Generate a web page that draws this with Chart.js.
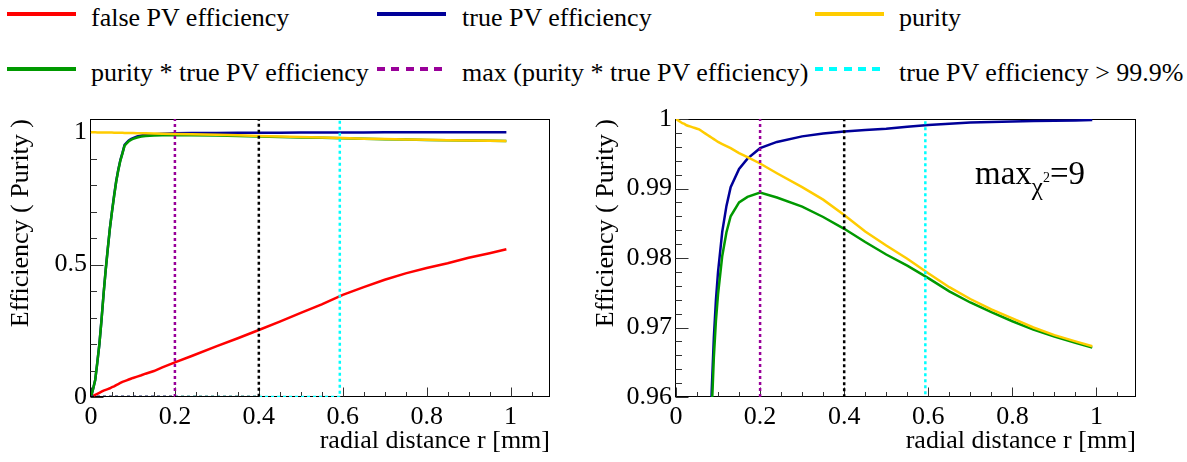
<!DOCTYPE html>
<html>
<head>
<meta charset="utf-8">
<script src="https://cdn.jsdelivr.net/npm/chart.js@4.4.1/dist/chart.umd.min.js"></script>
<style>
  body { margin: 0; background: #fff; width: 1187px; height: 462px; position: relative; overflow: hidden;
         font-family: "Liberation Serif", "Times New Roman", Tinos, "Nimbus Roman", "DejaVu Serif", serif; color: #000; }
  canvas { position: absolute; top: 0; }
  .ln { position: absolute; height: 4px; width: 69px; }
  .tx { position: absolute; font-size: 26px; line-height: 30px; white-space: nowrap; }
  .ann { position: absolute; left: 975px; top: 157px; font-size: 33px; line-height: 33px; white-space: nowrap; }
</style>
</head>
<body>

<!-- legend (spans both pads) -->
<div class="ln" style="left:7px;top:12px;background:#ff0000"></div>
<div class="tx" style="left:91px;top:3px">false PV efficiency</div>
<div class="ln" style="left:377px;top:12px;background:#000099"></div>
<div class="tx" style="left:462px;top:3px">true PV efficiency</div>
<div class="ln" style="left:815px;top:12px;background:#ffcc00"></div>
<div class="tx" style="left:899px;top:3px">purity</div>

<div class="ln" style="left:7px;top:67px;background:#009900"></div>
<div class="tx" style="left:91px;top:58px">purity * true PV efficiency</div>
<div class="ln" style="left:377px;top:67px;background:repeating-linear-gradient(to right,#990099 0 8px,transparent 8px 14.3px)"></div>
<div class="tx" style="left:462px;top:58px">max (purity * true PV efficiency)</div>
<div class="ln" style="left:815px;top:67px;background:repeating-linear-gradient(to right,#00ffff 0 8px,transparent 8px 14.3px)"></div>
<div class="tx" style="left:899px;top:58px">true PV efficiency &gt; 99.9%</div>

<canvas id="left" width="585" height="462" style="left:0"></canvas>
<canvas id="right" width="602" height="462" style="left:585px"></canvas>

<div class="ann">max<span style="position:relative;top:11px;font-size:25px">χ<span style="position:relative;top:-13px;font-size:14px">2</span></span>=9</div>

<script>
// radial distance r [mm]
const rVals = [0, 0.005, 0.01, 0.015, 0.02, 0.025, 0.03, 0.035, 0.04, 0.045, 0.05, 0.055, 0.06, 0.065,
               0.07, 0.075, 0.08, 0.085, 0.09, 0.095, 0.1, 0.11, 0.12, 0.13, 0.15, 0.17, 0.2, 0.24,
               0.3, 0.35, 0.4, 0.45, 0.5, 0.55, 0.6, 0.65, 0.7, 0.75, 0.8, 0.85, 0.9, 0.95, 0.99];

const falseEff = [0, 0.004, 0.008, 0.012, 0.016, 0.02, 0.024, 0.027, 0.03, 0.033, 0.037, 0.04, 0.045, 0.049,
                  0.053, 0.057, 0.06, 0.063, 0.066, 0.069, 0.072, 0.077, 0.082, 0.088, 0.098, 0.112, 0.131, 0.155,
                  0.192, 0.222, 0.253, 0.285, 0.318, 0.35, 0.386, 0.415, 0.443, 0.467, 0.487, 0.505, 0.526, 0.543, 0.558];

const trueEff = [0, 0.03, 0.064, 0.13, 0.2, 0.29, 0.39, 0.48, 0.56, 0.637, 0.7, 0.76, 0.815, 0.858,
                 0.895, 0.922, 0.952, 0.961, 0.9685, 0.974, 0.978, 0.9838, 0.9875, 0.9902, 0.9928, 0.9943, 0.9958, 0.9967,
                 0.9975, 0.9979, 0.9982, 0.9984, 0.9986, 0.9989, 0.99914, 0.9993, 0.9995, 0.99958, 0.99965, 0.9997, 0.99976, 0.9998, 0.99985];

const purity = [1.0, 0.9998, 0.9996, 0.9994, 0.9993, 0.9991, 0.999, 0.9989, 0.9988, 0.9987, 0.9986, 0.9985, 0.9983, 0.9981,
                0.9979, 0.9977, 0.9975, 0.9973, 0.9971, 0.9969, 0.9967, 0.9964, 0.9961, 0.9958, 0.9951, 0.9945, 0.9936, 0.9922,
                0.9902, 0.9884, 0.9862, 0.9838, 0.9818, 0.9799, 0.9778, 0.9758, 0.9741, 0.9726, 0.9713, 0.97, 0.9689, 0.968, 0.9673];

const purityTimesEff = [0, 0.03, 0.064, 0.13, 0.2, 0.289, 0.389, 0.479, 0.559, 0.636, 0.699, 0.758, 0.813, 0.856,
                        0.893, 0.92, 0.9495, 0.958, 0.9657, 0.971, 0.9748, 0.9803, 0.9837, 0.986, 0.988, 0.9888, 0.9894, 0.9887,
                        0.9874, 0.9859, 0.9842, 0.9823, 0.9805, 0.9789, 0.9771, 0.9752, 0.9736, 0.9722, 0.9709, 0.9697, 0.9687, 0.9678, 0.9671];

// cut positions (vertical dotted markers)
const rMaxProduct = 0.2;
const rChosen = 0.4;
const rEff999 = 0.593;

const xTickValues = [0, 0.2, 0.4, 0.6, 0.8, 1];
const yTicksLeft = [0, 0.5, 1];
const yTicksRight = [0.96, 0.97, 0.98, 0.99, 1];

Chart.defaults.font.family = '"Liberation Serif", "Times New Roman", Tinos, "Nimbus Roman", "DejaVu Serif", serif';
Chart.defaults.font.size = 26;
Chart.defaults.color = '#000';

function curve(label, ys, color, order) {
  return {
    label: label,
    data: rVals.map((r, i) => ({ x: r, y: ys[i] })),
    borderColor: color, backgroundColor: color,
    borderWidth: 2.5, pointRadius: 0, tension: 0, fill: false, order: order
  };
}

function marker(label, x0, yTop, color, order) {
  return {
    label: label,
    data: [{ x: 0, y: 0 }, { x: x0, y: 0 }, { x: x0, y: yTop }],
    borderColor: color, borderWidth: 2.5, borderDash: [3, 3],
    pointRadius: 0, tension: 0, fill: false, order: order
  };
}

// ROOT-like frame with inward major/minor ticks
const rootFrame = {
  id: 'rootFrame',
  beforeDatasetsDraw(chart, args, opts) {
    const { ctx, chartArea: a, scales: { x, y } } = chart;
    const L = Math.round(a.left) - 0.5, R = Math.round(a.right) - 0.5;
    const T = Math.round(a.top) + 0.5, B = Math.round(a.bottom) - 0.5;
    ctx.save();
    ctx.strokeStyle = '#000';
    ctx.lineWidth = 1;
    ctx.strokeRect(L, T, R - L, B - T);
    ctx.strokeStyle = '#333';
    ctx.beginPath();
    const eps = 1e-9;
    for (let v = x.min; v <= x.max + eps; v += opts.xMinor) {
      const major = xTickValues.some(t => Math.abs(t - v) < 1e-6);
      const px = Math.round(x.getPixelForValue(v)) + 0.5;
      ctx.moveTo(px, B); ctx.lineTo(px, B - (major ? 9 : 4.5));
    }
    for (let v = y.min; v <= y.max + eps; v += opts.yMinor) {
      const major = opts.yMajor.some(t => Math.abs(t - v) < 1e-6);
      const py = Math.round(y.getPixelForValue(v)) + 0.5;
      ctx.moveTo(L, py); ctx.lineTo(L + (major ? 13 : 6.5), py);
    }
    ctx.stroke();
    ctx.restore();
  }
};

function makeChart(canvasId, yMin, yMax, yMajor, yMinor, padRight) {
  const ctx = document.getElementById(canvasId).getContext('2d');
  return new Chart(ctx, {
    type: 'line',
    data: {
      datasets: [
        marker('cut', rChosen, yMax, '#000000', 0),
        marker('max (purity * true PV efficiency)', rMaxProduct, yMax, '#990099', 1),
        marker('true PV efficiency > 99.9%', rEff999, yMax, '#00ffff', 2),
        curve('purity', purity, '#ffcc00', 3),
        curve('purity * true PV efficiency', purityTimesEff, '#009900', 4),
        curve('true PV efficiency', trueEff, '#000099', 5),
        curve('false PV efficiency', falseEff, '#ff0000', 6)
      ]
    },
    options: {
      responsive: false,
      animation: false,
      layout: { padding: { left: 0, top: 119, right: padRight, bottom: 0 } },
      plugins: {
        legend: { display: false },
        tooltip: { enabled: false },
        rootFrame: { xMinor: 0.05, yMinor: yMinor, yMajor: yMajor }
      },
      scales: {
        x: {
          type: 'linear', min: 0, max: 1.094,
          grid: { display: false, drawTicks: false },
          border: { display: false },
          afterBuildTicks: s => { s.ticks = xTickValues.map(v => ({ value: v })); },
          afterFit: s => { s.height = 65; },
          ticks: { autoSkip: false, maxRotation: 0, padding: 5, callback: v => String(v) },
          title: { display: true, text: 'radial distance r [mm]', align: 'end', padding: { top: 0, bottom: 5 } }
        },
        y: {
          type: 'linear', min: yMin, max: yMax,
          grid: { display: false, drawTicks: false },
          border: { display: false },
          afterBuildTicks: s => { s.ticks = yMajor.map(v => ({ value: v })); },
          afterFit: s => { s.width = 91; },
          ticks: { autoSkip: false, padding: 4, callback: v => String(v) },
          title: { display: true, text: 'Efficiency ( Purity )', align: 'end', padding: { top: 6, bottom: 0 } }
        }
      }
    },
    plugins: [rootFrame]
  });
}

makeChart('left', 0, 1.05, yTicksLeft, 0.1, 35);
makeChart('right', 0.96, 1.0, yTicksRight, 0.002, 51);
</script>
</body>
</html>
